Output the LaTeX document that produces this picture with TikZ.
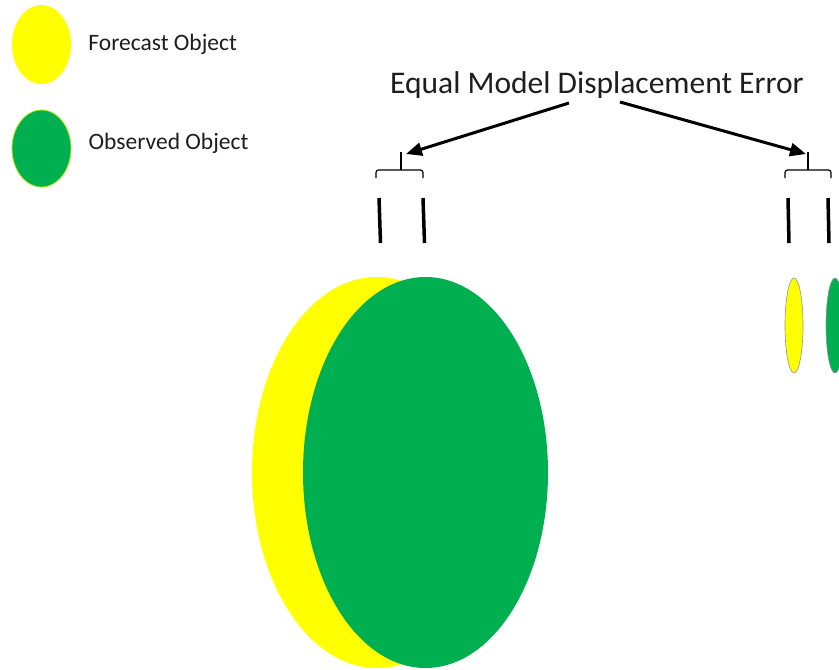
\documentclass[tikz,border=0pt]{standalone}
\usepackage{fontspec}
\setmainfont{Carlito}
\usetikzlibrary{arrows.meta,positioning,shapes.geometric}
\definecolor{FcstYellow}{RGB}{255,255,0}
\definecolor{ObsGreen}{RGB}{0,176,80}
\definecolor{EdgeGray}{RGB}{140,150,150}
\definecolor{TextGray}{RGB}{30,30,30}

\begin{document}
\begin{tikzpicture}[x=1pt, y=-1pt, >=Latex, font=\fontsize{23.5}{26}\selectfont, text=TextGray,
    blob/.style={ellipse, inner sep=0pt},
    bar/.style={line width=3.5pt},
    brace/.style={line width=1.2pt, rounded corners=2.5pt},
    pointer/.style={line width=3pt, -{Triangle[length=16pt,width=13pt]}}]
    \useasboundingbox (0,0) rectangle (839,670);

    % legend
    \node [blob, fill=FcstYellow, minimum width=59pt, minimum height=79pt] (legfc) at (41.5,44.5) {};
    \node [blob, draw=FcstYellow!70!ObsGreen, line width=0.8pt, fill=ObsGreen, minimum width=59pt, minimum height=77pt] (legob) at (41.5,148.5) {};
    \node [inner sep=0pt, right=17pt of legfc] (legfctext) {Forecast Object};
    \node [inner sep=0pt, right=17pt of legob, yshift=5pt] (legobtext) {Observed Object};

    % title and pointers
    \node [anchor=base, inner sep=0pt, font=\fontsize{31.5}{34}\selectfont] (title) at (597,93) {Equal Model Displacement Error};
    \coordinate (fromL) at (569,103);
    \coordinate (fromR) at (620,102);
    \coordinate (stemL) at (401,152);
    \coordinate (stemR) at (808,152);

    % braces
    \draw [brace] (376,178) -- (376,170) -- (423,170) -- (423,178);
    \draw [brace] (785,178) -- (785,170) -- (831,170) -- (831,178);
    \draw [line width=1.2pt] (stemL) -- (401,170);
    \draw [line width=1.2pt] (stemR) -- (808,170);
    \draw [pointer] (fromL) -- ([xshift=5pt,yshift=-2pt]stemL);
    \draw [pointer] (fromR) -- ([xshift=-2pt,yshift=-2pt]stemR);

    % displacement bars
    \draw [bar] (379,198) -- (380.5,243);
    \draw [bar] (423,198) -- (424.5,243);
    \draw [bar] (788,198) -- (789,243);
    \draw [bar] (828,198) -- (829,243);

    % large objects
    \node [blob, fill=FcstYellow, minimum width=250pt, minimum height=391pt] (bigfc) at (377,472.5) {};
    \node [blob, fill=ObsGreen, minimum width=245pt, minimum height=391pt] (bigob) at (425.5,472.5) {};

    % small objects
    \node [blob, draw=EdgeGray, line width=0.6pt, fill=FcstYellow, minimum width=18pt, minimum height=95pt] (smallfc) at (794,325.5) {};
    \node [blob, draw=EdgeGray, line width=0.6pt, fill=ObsGreen, minimum width=18pt, minimum height=95pt] (smallob) at (835,325.5) {};
\end{tikzpicture}
\end{document}
